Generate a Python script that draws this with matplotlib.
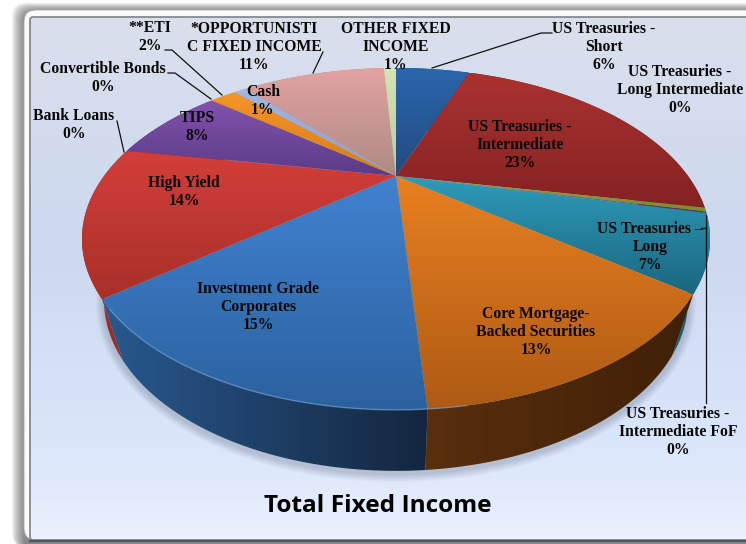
import numpy as np
import matplotlib
matplotlib.use("Agg")
import matplotlib.pyplot as plt
from matplotlib.patches import FancyBboxPatch, Polygon, Ellipse

# Slices, clockwise from 12 o'clock
labels = ["US Treasuries -\nShort", "US Treasuries -\nIntermediate", "US Treasuries -\nLong Intermediate",
          "US Treasuries -\nIntermediate FoF", "US Treasuries –\nLong", "Core Mortgage-\nBacked Securities",
          "Investment Grade\nCorporates", "High Yield", "Bank Loans", "TIPS", "Convertible Bonds",
          "**ETI", "Cash", "*OPPORTUNISTI\nC FIXED INCOME", "OTHER FIXED\nINCOME"]
values = [5.5, 22.9, 0.4, 0.1, 7.0, 13.4, 15.2, 14.0, 0.1, 7.9, 0.1, 1.8, 0.9, 10.6, 0.9]

top_colors = ["#2a66ac", "#aa3230", "#94a040", "#5a4a90", "#2e9cba", "#e8801f", "#4082d0", "#d43e3a",
              "#c03a36", "#8252ac", "#e08a30", "#f49528", "#a2b8e0", "#e2a2a2", "#d2e6b4"]
bottom_colors = ["#224c80", "#842222", "#7c8a30", "#4a3c78", "#1a6780", "#ae5a14", "#2c619f", "#a83028",
                 "#a83028", "#5a3c88", "#c07020", "#d87c18", "#8ea0c4", "#ae8a84", "#b8cc9c"]
wall_left = ["#1f4a7c", "#7a1f1f", "#6c7828", "#3c3060", "#1c6276", "#5a2f0c", "#28598f", "#a8322a",
             "#a8322a", "#5a3c88", "#c07020", "#d87c18", "#8ea0c4", "#ae8a84", "#b8cc9c"]
wall_right = ["#1f4a7c", "#7a1f1f", "#6c7828", "#3c3060", "#164c5e", "#3f2008", "#14263f", "#8c2822",
              "#8c2822", "#5a3c88", "#c07020", "#d87c18", "#8ea0c4", "#ae8a84", "#b8cc9c"]

# Label layout in image pixels
label_pos = [(604, 47), (520, 145), (680, 90), (678, 432), (650, 247), (536, 332), (258, 307), (184, 192),
             (74, 125), (197, 127), (103, 78), (150, 37), (263, 101), (254, 47), (396, 47)]
leaders = [[(552, 33), (541, 33), (432, 68)], [(165, 50), (172, 50), (222, 95)],
           [(168, 73), (175, 73), (211, 99)], [(117, 121), (124, 152)], [(323, 52), (313, 73)],
           [(706, 215), (706, 403)], [(701, 228), (706, 228)]]

# Perspective of the pie disc, in pixels
CX, CY = 396, 176
A, B, K = 292, 147.8, 0.368
DEPTH, SHRINK = 61, 0.93
W, H = 746, 544


def top_face(theta):
    u, v = np.sin(theta), np.cos(theta)
    w = 1 + K * v
    return CX + A * u / w, CY - B * v / w


def bottom_face(theta):
    x, y = top_face(theta)
    return CX + (x - CX) * SHRINK, y + DEPTH


def gradient(ax, poly, c1, c2, vertical=True):
    c1 = np.array(matplotlib.colors.to_rgb(c1))
    c2 = np.array(matplotlib.colors.to_rgb(c2))
    t = np.linspace(0, 1, 128)[:, None]
    img = c1 * (1 - t) + c2 * t
    img = img[:, None, :] if vertical else img[None, :, :]
    xs, ys = poly[:, 0], poly[:, 1]
    im = ax.imshow(img, extent=(xs.min(), xs.max(), ys.max(), ys.min()), aspect="auto", zorder=3,
                   interpolation="bilinear")
    patch = Polygon(poly, closed=True, transform=ax.transData, fc="none", ec="none")
    ax.add_patch(patch)
    im.set_clip_path(patch)


fig = plt.figure(figsize=(W / 100, H / 100), dpi=100, facecolor="white")
ax = fig.add_axes([0, 0, 1, 1])

# Frame: soft shadow, white bevel, then the panel
for i in range(14):
    ax.add_patch(FancyBboxPatch((25 - i, 12 - i * 0.7), W, H, boxstyle="round,pad=0,rounding_size=14",
                                fc="#505050", ec="none", alpha=0.075, zorder=1))
ax.add_patch(FancyBboxPatch((24, 10), W, 530, boxstyle="round,pad=0,rounding_size=12",
                            fc="#fbfbfb", ec="#a8a8a8", lw=0.6, zorder=1.2))
panel = FancyBboxPatch((30, 17), W, 523, boxstyle="round,pad=0,rounding_size=3",
                       fc="none", ec="#7c8088", lw=1.2, zorder=2.2)
ax.add_patch(panel)
bg = np.array([[0.855, 0.875, 0.925], [0.80, 0.85, 0.94], [0.85, 0.90, 0.98], [0.875, 0.915, 0.985], [0.92, 0.95, 0.995]])
ypos = np.linspace(0, 1, 256)
bg_img = np.stack([np.interp(ypos, [0, 0.45, 0.8, 0.89, 1], bg[:, c]) for c in range(3)], axis=1)[:, None, :]
im = ax.imshow(bg_img, extent=(30, W, 540, 17), aspect="auto", zorder=2, interpolation="bilinear")
im.set_clip_path(panel)
ax.plot([30, W], [541, 541], color="#50545c", lw=1.6, zorder=2.3)

# Pie shadow
for i in range(8):
    ax.add_patch(Ellipse((CX, 304), 2 * (293 + i), 2 * (171 + i), fc="#3a4458", ec="none", alpha=0.03, zorder=2.5))

edges = np.cumsum([0] + values) / sum(values) * 2 * np.pi

# Side walls first, the top faces cover whatever is behind them
for i in range(len(values)):
    th = np.linspace(edges[i], edges[i + 1], 60)
    x1, y1 = top_face(th)
    x2, y2 = bottom_face(th)
    wall = np.column_stack([np.r_[x1, x2[::-1]], np.r_[y1, y2[::-1]]])
    gradient(ax, wall, wall_left[i], wall_right[i], vertical=False)

for i in range(len(values)):
    th = np.linspace(edges[i], edges[i + 1], 60)
    x1, y1 = top_face(th)
    face = np.column_stack([np.r_[CX, x1], np.r_[CY, y1]])
    gradient(ax, face, top_colors[i], bottom_colors[i])

# Light rim along the front of the disc
rim = np.linspace(edges[5] + 0.75, edges[7] - 0.05, 160)
x1, y1 = top_face(rim)
ax.plot(x1, y1, color="#6f9fd8", lw=1.1, alpha=0.55, zorder=4)

for pts in leaders:
    xs, ys = zip(*pts)
    ax.plot(xs, ys, color="#111111", lw=0.9, zorder=5)

for name, val, (lx, ly) in zip(labels, values, label_pos):
    ax.text(lx, ly, f"{name}\n{round(val)}%", ha="center", va="center", family="Liberation Serif",
            weight="bold", fontsize=11.3, color="#080808", linespacing=1.15, zorder=6)

ax.text(378, 506, "Total Fixed Income", ha="center", va="center", family="Open Sans", weight="bold",
        fontsize=17.6, color="black", zorder=6)

ax.set_xlim(0, W)
ax.set_ylim(H, 0)
ax.axis("off")
fig.savefig("out.png", dpi=100)
